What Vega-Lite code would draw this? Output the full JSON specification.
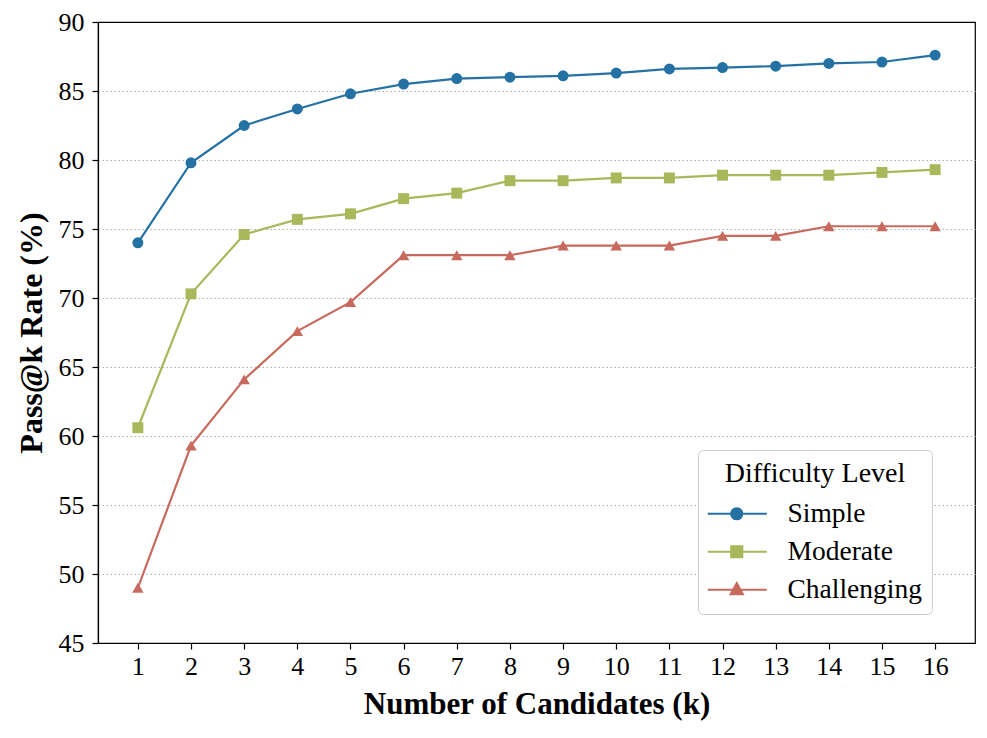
{
  "$schema": "https://vega.github.io/schema/vega-lite/v6.json",
  "width": 877,
  "height": 621,
  "autosize": "none",
  "padding": {"left": 98, "top": 22, "right": 12, "bottom": 95},
  "background": "white",
  "config": {
    "font": "Liberation Serif",
    "view": {"stroke": "black", "strokeWidth": 1.2},
    "axis": {"labelFont": "Liberation Serif", "titleFont": "Liberation Serif", "labelColor": "black", "titleColor": "black", "domainColor": "black", "tickColor": "black", "tickSize": 6, "tickWidth": 1.2, "domainWidth": 1.2}
  },
  "data": {
    "values": [
      {"k": 1, "level": "Simple", "rate": 74.0},
      {"k": 2, "level": "Simple", "rate": 79.8},
      {"k": 3, "level": "Simple", "rate": 82.5},
      {"k": 4, "level": "Simple", "rate": 83.7},
      {"k": 5, "level": "Simple", "rate": 84.8},
      {"k": 6, "level": "Simple", "rate": 85.5},
      {"k": 7, "level": "Simple", "rate": 85.9},
      {"k": 8, "level": "Simple", "rate": 86.0},
      {"k": 9, "level": "Simple", "rate": 86.1},
      {"k": 10, "level": "Simple", "rate": 86.3},
      {"k": 11, "level": "Simple", "rate": 86.6},
      {"k": 12, "level": "Simple", "rate": 86.7},
      {"k": 13, "level": "Simple", "rate": 86.8},
      {"k": 14, "level": "Simple", "rate": 87.0},
      {"k": 15, "level": "Simple", "rate": 87.1},
      {"k": 16, "level": "Simple", "rate": 87.6},
      {"k": 1, "level": "Moderate", "rate": 60.6},
      {"k": 2, "level": "Moderate", "rate": 70.3},
      {"k": 3, "level": "Moderate", "rate": 74.6},
      {"k": 4, "level": "Moderate", "rate": 75.7},
      {"k": 5, "level": "Moderate", "rate": 76.1},
      {"k": 6, "level": "Moderate", "rate": 77.2},
      {"k": 7, "level": "Moderate", "rate": 77.6},
      {"k": 8, "level": "Moderate", "rate": 78.5},
      {"k": 9, "level": "Moderate", "rate": 78.5},
      {"k": 10, "level": "Moderate", "rate": 78.7},
      {"k": 11, "level": "Moderate", "rate": 78.7},
      {"k": 12, "level": "Moderate", "rate": 78.9},
      {"k": 13, "level": "Moderate", "rate": 78.9},
      {"k": 14, "level": "Moderate", "rate": 78.9},
      {"k": 15, "level": "Moderate", "rate": 79.1},
      {"k": 16, "level": "Moderate", "rate": 79.3},
      {"k": 1, "level": "Challenging", "rate": 49.0},
      {"k": 2, "level": "Challenging", "rate": 59.3},
      {"k": 3, "level": "Challenging", "rate": 64.1},
      {"k": 4, "level": "Challenging", "rate": 67.6},
      {"k": 5, "level": "Challenging", "rate": 69.7},
      {"k": 6, "level": "Challenging", "rate": 73.1},
      {"k": 7, "level": "Challenging", "rate": 73.1},
      {"k": 8, "level": "Challenging", "rate": 73.1},
      {"k": 9, "level": "Challenging", "rate": 73.8},
      {"k": 10, "level": "Challenging", "rate": 73.8},
      {"k": 11, "level": "Challenging", "rate": 73.8},
      {"k": 12, "level": "Challenging", "rate": 74.5},
      {"k": 13, "level": "Challenging", "rate": 74.5},
      {"k": 14, "level": "Challenging", "rate": 75.2},
      {"k": 15, "level": "Challenging", "rate": 75.2},
      {"k": 16, "level": "Challenging", "rate": 75.2}
    ]
  },
  "encoding": {
    "x": {
      "field": "k", "type": "quantitative",
      "scale": {"domain": [0.25, 16.75], "nice": false, "zero": false},
      "axis": {"values": [1,2,3,4,5,6,7,8,9,10,11,12,13,14,15,16], "grid": false, "labelFontSize": 26, "labelPadding": 4, "title": "Number of Candidates (k)", "titleFontSize": 31, "titleFontWeight": "bold", "titlePadding": 10}
    },
    "y": {
      "field": "rate", "type": "quantitative",
      "scale": {"domain": [45, 90], "nice": false, "zero": false},
      "axis": {"values": [45,50,55,60,65,70,75,80,85,90], "grid": true, "gridColor": "#b0b0b0", "gridDash": [1.5, 2.5], "gridWidth": 1,
        "gridOpacity": {"condition": {"test": "datum.value == 45 || datum.value == 90", "value": 0}, "value": 1},
        "labelFontSize": 26, "labelPadding": 8, "title": "Pass@k Rate (%)", "titleFontSize": 32, "titleFontWeight": "bold", "titlePadding": 10}
    },
    "color": {
      "field": "level", "type": "nominal",
      "scale": {"domain": ["Simple", "Moderate", "Challenging"], "range": ["#2471a3", "#a8b85b", "#c8695d"]},
      "legend": {
        "title": "Difficulty Level",
        "orient": "none", "legendX": 600, "legendY": 428,
        "padding": 10,
        "strokeColor": "#cccccc", "fillColor": "white", "cornerRadius": 5,
        "titleFont": "Liberation Serif", "titleFontSize": 28, "titleFontWeight": "normal", "titleColor": "black", "titleAnchor": "middle", "titlePadding": 12, "titleLimit": 500,
        "labelFont": "Liberation Serif", "labelFontSize": 27.5, "labelColor": "black", "labelOffset": 52, "labelLimit": 500,
        "symbolSize": 400, "symbolStrokeWidth": 2.2, "rowPadding": 9,
        "encode": {
          "symbols": {
            "update": {
              "shape": {"signal": "datum.value == 'Simple' ? 'M-1.4,0H4.5M2.05,0A0.55,0.55,0,1,1,0.95,0A0.55,0.55,0,1,1,2.05,0Z' : datum.value == 'Moderate' ? 'M-1.4,0H4.5M0.95,-0.55H2.05V0.55H0.95Z' : 'M-1.4,0H4.5M1.5,-0.65L2.1,0.45L0.9,0.45Z'"},
              "fill": {"scale": "color", "field": "value"},
              "stroke": {"scale": "color", "field": "value"},
              "strokeWidth": {"value": 2.2},
              "opacity": {"value": 1}
            }
          }
        }
      }
    }
  },
  "layer": [
    {"mark": {"type": "line", "strokeWidth": 2.2}},
    {"transform": [{"filter": "datum.level == 'Simple'"}], "mark": {"type": "point", "filled": true, "opacity": 1, "size": 120, "shape": "circle"}},
    {"transform": [{"filter": "datum.level == 'Moderate'"}], "mark": {"type": "point", "filled": true, "opacity": 1, "size": 120, "shape": "square"}},
    {"transform": [{"filter": "datum.level == 'Challenging'"}], "mark": {"type": "point", "filled": true, "opacity": 1, "size": 130, "shape": "triangle-up"}}
  ]
}
